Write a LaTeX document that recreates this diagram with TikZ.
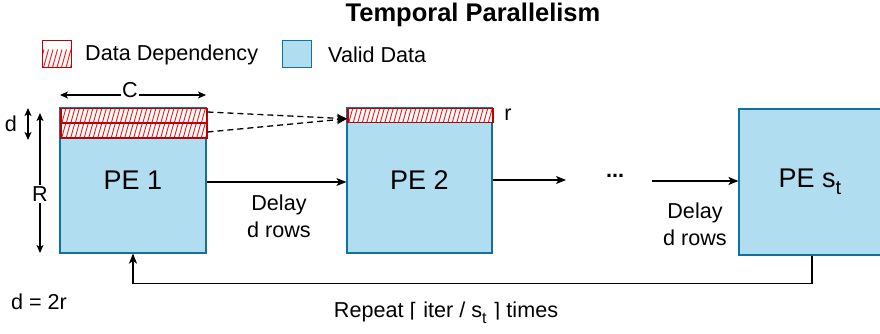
\documentclass[tikz,border=0pt]{standalone}
\usepackage{fontspec}
\setmainfont{Liberation Sans}
\newfontfamily\symfont{DejaVu Sans}
\usetikzlibrary{arrows.meta}
\definecolor{bluefill}{HTML}{B1DDF0}
\definecolor{bluedraw}{HTML}{10739E}
\definecolor{hatchred}{HTML}{FF1010}
\definecolor{hatchborder}{HTML}{C00000}
\newcommand{\fs}[1]{\fontsize{#1}{#1}\selectfont}
\newcommand{\subt}[2]{\raisebox{-0.28em}{\fontsize{#1}{#1}\selectfont #2}}
\tikzset{
  pebox/.style={draw=bluedraw, fill=bluefill, line width=1.2pt, minimum width=#1, minimum height=145, inner sep=0pt, font=\fs{27}},
  hatchbox/.style={draw=hatchborder, line width=1.5pt, fill=white, inner sep=0pt,
    path picture={\foreach \k in {0,...,40}
      {\draw[hatchred, line width=0.9pt] ([xshift={\k*4.5pt-8pt}]path picture bounding box.south west) -- ++(5pt,18pt);}}},
  lbl/.style={font=\fs{21.6}, inner sep=1pt},
  conn/.style={line width=1.3pt, -{Stealth[length=10pt,width=8pt,inset=2.5pt]}},
  dashconn/.style={line width=1.3pt, dash pattern=on 6pt off 4pt, -{Stealth[length=10pt,width=9pt,inset=2.5pt]}},
  dim/.style={line width=1.2pt, {Stealth[length=8pt,width=7pt,inset=2pt]}-{Stealth[length=8pt,width=7pt,inset=2pt]}},
}
\begin{document}
\begin{tikzpicture}[x=1pt,y=-1pt]
\useasboundingbox (0,0) rectangle (880,334);
% title
\node[font=\bfseries\fs{25.5}] (title) at (473,15) {Temporal Parallelism};
% legend
\node[hatchbox, minimum width=29, minimum height=27] (legdep) at (57,54) {};
\node[lbl, anchor=west] (legdeptxt) at (84,55) {Data Dependency};
\node[pebox=29, minimum height=27, line width=1pt] (legvalid) at (297,54) {};
\node[lbl, anchor=west] (legvalidtxt) at (327,55) {Valid Data};
% PE boxes
\node[pebox=146] (pe1) at (133,180.5) {PE 1};
\node[pebox=145] (pe2) at (419.5,180.5) {PE 2};
\node[pebox=142, minimum height=146] (pest) at (810,182) {PE s\subt{20}{t}};
% hatched rows
\node[hatchbox, minimum width=146, minimum height=14.5, anchor=north west] (h1) at (60,108) {};
\node[hatchbox, minimum width=146, minimum height=14.5, anchor=north west] (h2) at (60,122.5) {};
\node[hatchbox, minimum width=145, minimum height=14, anchor=north west] (h3) at (347,108) {};
\node[lbl] (rlab) at (508,115) {r};
% dashed arrows
\draw[dashconn] ([yshift=4pt]h1.east) -- ([yshift=-3pt]h3.west);
\draw[dashconn] ([yshift=-1.5pt]h2.east) -- ([yshift=-3pt]h3.west);
% dimension C
\coordinate (cL) at (60,95);
\coordinate (cR) at (206,95);
\draw[dim] (cL) -- (cR);
\node[lbl, fill=white, inner sep=1pt] (clab) at (130,90) {C};
% dimension d
\coordinate (dT) at (28,108);
\coordinate (dB) at (28,140);
\draw[dim] (dT) -- (dB);
\node[lbl] (dlab) at (11,124) {d};
% dimension R
\coordinate (rT) at (40,113);
\coordinate (rB) at (40,253);
\draw[dim] (rT) -- (rB);
\node[lbl, fill=white, inner sep=2pt] (Rlab) at (40,194) {R};
% flow arrows
\draw[conn] ([yshift=-1.5pt]pe1.east) -- ([yshift=-1.5pt]pe2.west);
\node[lbl, align=center, font=\fontsize{21.6}{27}\selectfont] (delay1) at (279,216) {Delay\\d rows};
\coordinate (mid1) at (566,180);
\draw[conn] ([yshift=0.5pt]pe2.east) -- (mid1);
\node[lbl, font=\bfseries\fs{21.6}] (dots) at (615,176) {...};
\coordinate (mid2) at (652,181);
\draw[conn] (mid2) -- (pest.west |- mid2);
\node[lbl, align=center, font=\fontsize{21.6}{27}\selectfont] (delay2) at (695,224) {Delay\\d rows};
% feedback
\draw[conn] ([xshift=2pt]pest.south) -- ++(0,28) -| (pe1.south);
\node[lbl] (eq) at (39,302) {d = 2r};
\node[lbl] (rep) at (446,313) {Repeat {\symfont\fs{20}⌈} iter / s\subt{16}{t} {\symfont\fs{20}⌉} times};
\end{tikzpicture}
\end{document}
